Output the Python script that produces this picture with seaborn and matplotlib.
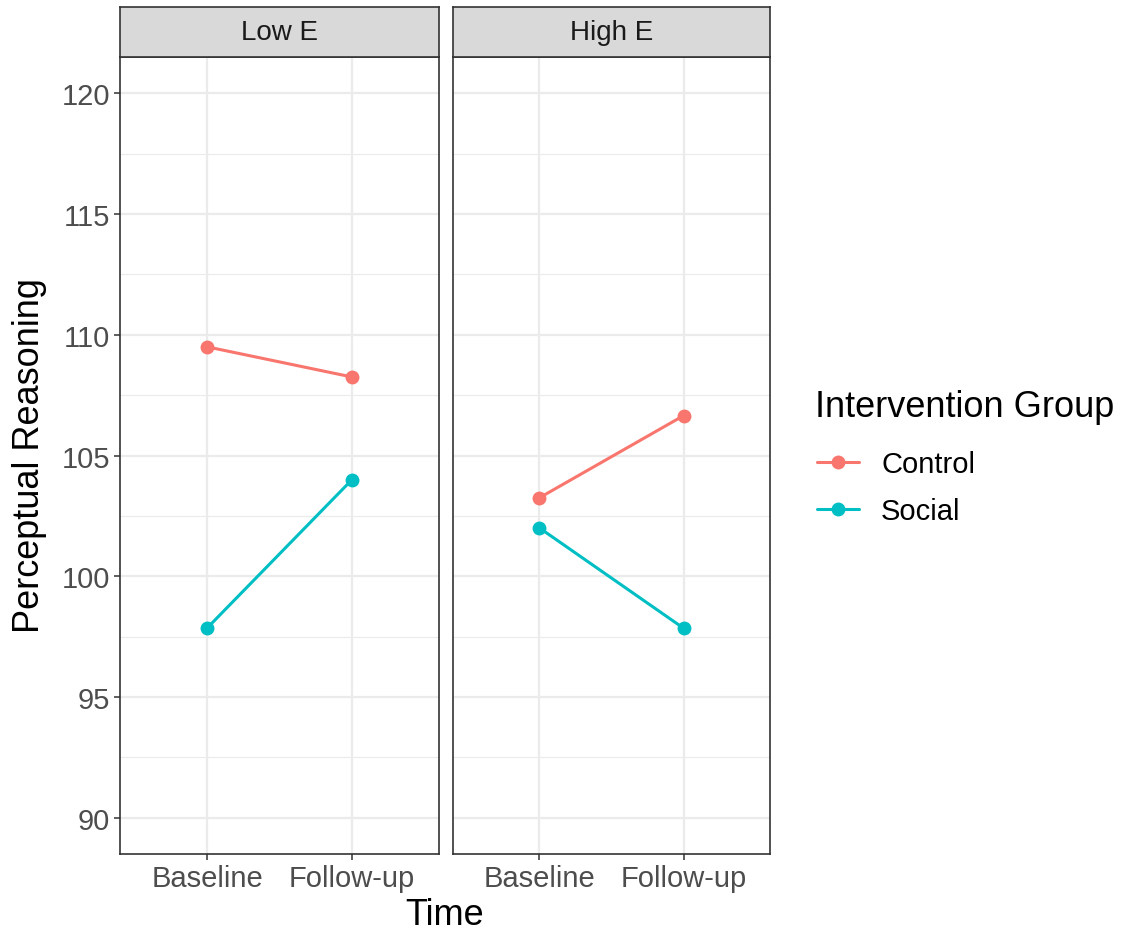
import matplotlib
matplotlib.use("Agg")
import matplotlib.pyplot as plt
from matplotlib.lines import Line2D
from matplotlib.ticker import MultipleLocator
import seaborn as sns
import pandas as pd

# ---- data ----
panels = ["Low E", "High E"]
times = ["Baseline", "Follow-up"]
groups = ["Control", "Social"]
low_control = [109.5, 108.25]
low_social = [97.85, 104.0]
high_control = [103.25, 106.65]
high_social = [102.0, 97.85]
yticks = [90, 95, 100, 105, 110, 115, 120]

values = {
    ("Low E", "Control"): low_control,
    ("Low E", "Social"): low_social,
    ("High E", "Control"): high_control,
    ("High E", "Social"): high_social,
}
rows = []
for (p, g), vals in values.items():
    for t, v in zip(times, vals):
        rows.append({"Panel": p, "Group": g, "Time": t, "Value": v})
df = pd.DataFrame(rows)

palette = {"Control": "#F8766D", "Social": "#00BFC4"}

sns.set_theme(style="white")
plt.rcParams["font.family"] = ["Liberation Sans", "DejaVu Sans"]

fig = plt.figure(figsize=(11.37, 9.37), dpi=100)
W, H = 1137, 937
panel_px = [(120, 439), (453, 770)]
top_px, bot_px, strip_top_px = 58, 855, 8

axes = []
for i, (x0, x1) in enumerate(panel_px):
    ax = fig.add_axes([x0 / W, 1 - bot_px / H, (x1 - x0) / W, (bot_px - top_px) / H])
    sub = df[df["Panel"] == panels[i]]
    sns.lineplot(data=sub, x="Time", y="Value", hue="Group", hue_order=groups,
                 palette=palette, marker="o", markersize=10, markeredgewidth=0,
                 linewidth=2.2, ax=ax, legend=False, zorder=3)
    ax.set_xlim(-0.6, 1.6)
    ax.set_ylim(88.5, 121.5)
    ax.set_yticks(yticks)
    ax.yaxis.set_minor_locator(MultipleLocator(2.5))
    ax.grid(which="major", color="#EBEBEB", linewidth=1.6, zorder=0)
    ax.grid(which="minor", axis="y", color="#EBEBEB", linewidth=0.8, zorder=0)
    ax.set_axisbelow(True)
    for s in ax.spines.values():
        s.set_color("#333333")
        s.set_linewidth(1.2)
    ax.set_xlabel("")
    ax.set_ylabel("")
    ax.tick_params(axis="x", which="major", length=4, width=1.1, color="#333333",
                   labelsize=21, labelcolor="#4D4D4D", pad=3, bottom=True)
    ax.tick_params(axis="y", which="minor", length=0, left=False)
    if i == 0:
        ax.tick_params(axis="y", which="major", length=4, width=1.1, color="#333333",
                       labelsize=21, labelcolor="#4D4D4D", pad=3, left=True)
    else:
        ax.tick_params(axis="y", which="major", length=0, left=False, labelleft=False)
    axes.append(ax)

    # strip
    sax = fig.add_axes([x0 / W, 1 - top_px / H, (x1 - x0) / W, (top_px - strip_top_px) / H])
    sax.set_facecolor("#D9D9D9")
    sax.set_xticks([])
    sax.set_yticks([])
    for s in sax.spines.values():
        s.set_color("#333333")
        s.set_linewidth(1.2)
    sax.text(0.5, 0.5, panels[i], ha="center", va="center", fontsize=20,
             color="#1A1A1A", transform=sax.transAxes)

fig.text(30 / W, 1 - 456 / H, "Perceptual Reasoning", rotation=90, ha="center",
         va="center", fontsize=26, color="black")
fig.text(445 / W, 1 - 916 / H, "Time", ha="center", va="center", fontsize=26,
         color="black")

fig.text(815 / W, 1 - 408 / H, "Intervention Group", ha="left", va="center",
         fontsize=26, color="black")
handles = [Line2D([0], [0], color=palette[g], marker="o", markersize=10,
                  markeredgewidth=0, linewidth=2.2) for g in groups]
leg = fig.legend(handles, groups, loc="upper left",
                 bbox_to_anchor=(817 / W, 1 - 451 / H), frameon=False, fontsize=21,
                 handlelength=1.45, handletextpad=0.75, labelspacing=0.65,
                 borderaxespad=0, borderpad=0)
for t in leg.get_texts():
    t.set_color("black")

fig.savefig("out.png", dpi=100)
